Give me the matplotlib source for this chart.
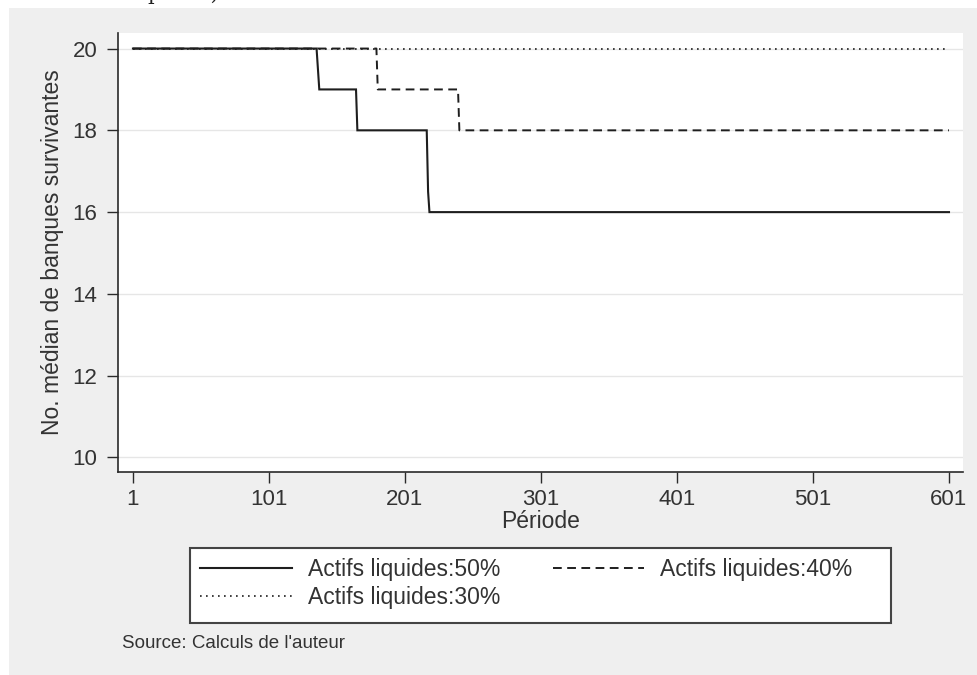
import matplotlib.pyplot as plt
from matplotlib.patches import Rectangle

plt.rcParams['font.family'] = ['Liberation Sans', 'DejaVu Sans']

# change points of each median-survivor series (period, value)
per_50 = [1, 136, 137, 138, 165, 166, 217, 218, 219, 601]
val_50 = [20, 20, 19.5, 19, 19, 18, 18, 16.5, 16, 16]
per_40 = [1, 180, 181, 240, 241, 601]
val_40 = [20, 20, 19, 19, 18, 18]
per_30 = [1, 601]
val_30 = [20, 20]

labels = ['Actifs liquides:50%', 'Actifs liquides:40%', 'Actifs liquides:30%']
xticks = [1, 101, 201, 301, 401, 501, 601]
yticks = [10, 12, 14, 16, 18, 20]

W, H = 978, 675
fig = plt.figure(figsize=(W / 100, H / 100), dpi=100)
fig.patch.set_facecolor('white')
# grey outer panel (Stata style)
fig.patches.append(Rectangle((9 / W, 0), 1 - 9 / W, (H - 8) / H,
                             transform=fig.transFigure, facecolor='#efefef',
                             edgecolor='none', zorder=-5))
# legend frame
fig.patches.append(Rectangle((190 / W, 1 - 623 / H), 701 / W, 75 / H,
                             transform=fig.transFigure, facecolor='white',
                             edgecolor='#444444', lw=1.5, zorder=-1))
# cut-off caption above the chart
fig.text(147 / W, 1 - 0.5 / H, 'partie)', family='DejaVu Serif', fontsize=15,
         va='baseline', ha='left', color='#222')

ax = fig.add_axes([118 / W, 1 - 472 / H, (963 - 118) / W, (472 - 33) / H])
ax.set_facecolor('white')

col = '#1e1e1e'
l50, = ax.plot(per_50, val_50, color=col, lw=1.5, solid_joinstyle='miter')
l40, = ax.plot(per_40, val_40, color=col, lw=1.4, dashes=(4.5, 2.8))
l30, = ax.plot(per_30, val_30, color=col, lw=1.2, dashes=(1, 2.6))

ax.set_xlim(-10, 611.3)
ax.set_ylim(9.645, 20.38)
ax.set_xticks(xticks)
ax.set_yticks(yticks)
ax.yaxis.grid(True, color='#e6e6e6', lw=1)
ax.set_axisbelow(True)
for s in ['top', 'right']:
    ax.spines[s].set_visible(False)
for s in ['left', 'bottom']:
    ax.spines[s].set_color('#2a2a2a')
    ax.spines[s].set_linewidth(1.2)
ax.tick_params(direction='out', length=8, width=1, color='#2a2a2a',
               labelsize=16, labelcolor='#333333')
ax.tick_params(axis='y', pad=7)
ax.tick_params(axis='x', pad=4)

ax.set_xlabel('Période', fontsize=16.5, color='#333333', va='center')
ax.xaxis.set_label_coords(0.5, (472 - 522) / 439)
ax.set_ylabel('No. médian de banques survivantes', fontsize=16.5,
              color='#333333', va='center')
ax.yaxis.set_label_coords((53 - 118) / 845, 0.5)

leg = fig.legend([l50, l30, l40], [labels[0], labels[2], labels[1]],
                 ncol=2, loc='upper left',
                 bbox_to_anchor=(200 / W, 1 - 558 / H),
                 fontsize=16.5, frameon=False,
                 handlelength=4.0, handletextpad=0.7, labelspacing=0.2,
                 borderpad=0, borderaxespad=0, columnspacing=2.3,
                 labelcolor='#333333')

fig.text(122 / W, 1 - 643 / H, "Source: Calculs de l'auteur", fontsize=13.5,
         color='#333333', va='center', ha='left')

fig.savefig('out.png', dpi=100)
